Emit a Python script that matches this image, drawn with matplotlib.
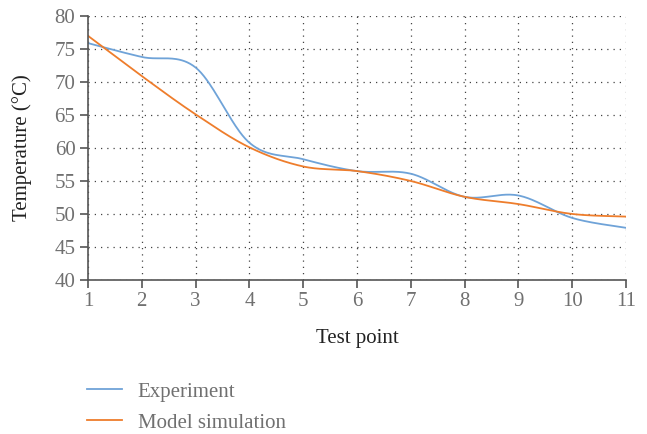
import numpy as np
import matplotlib
matplotlib.use("Agg")
import matplotlib.pyplot as plt

plt.rcParams['font.family'] = ['Liberation Serif', 'DejaVu Serif']

test_points = [1, 2, 3, 4, 5, 6, 7, 8, 9, 10, 11]
experiment = [75.9, 73.8, 72.2, 60.8, 58.3, 56.5, 56.1, 52.6, 52.8, 49.4, 47.9]
model_sim = [77.0, 70.9, 65.1, 60.1, 57.2, 56.5, 55.0, 52.6, 51.5, 50.0, 49.6]

BLUE = '#6fa3d8'
ORANGE = '#ee7d2c'
TXT = '#707070'


def smooth(xs, ys, n=40, t=0.5):
    xs = np.asarray(xs, float)
    ys = np.asarray(ys, float)
    P = np.column_stack([xs, ys])
    out = []
    for i in range(len(P) - 1):
        p0 = P[i - 1] if i > 0 else P[i]
        p1 = P[i]
        p2 = P[i + 1]
        p3 = P[i + 2] if i + 2 < len(P) else P[i + 1]
        c1 = p1 + (p2 - p0) * t / 3
        c2 = p2 - (p3 - p1) * t / 3
        s = np.linspace(0, 1, n)[:, None]
        seg = ((1 - s) ** 3) * p1 + 3 * ((1 - s) ** 2) * s * c1 + 3 * (1 - s) * s ** 2 * c2 + s ** 3 * p2
        out.append(seg if i == 0 else seg[1:])
    B = np.vstack(out)
    return B[:, 0], B[:, 1]


fig = plt.figure(figsize=(6.47, 4.34), dpi=100)
ax = fig.add_axes([0.136, 0.355, 0.8315, 0.608])

ex, ey = smooth(test_points, experiment)
mx, my = smooth(test_points, model_sim)
l1, = ax.plot(ex, ey, color=BLUE, lw=1.3, label='Experiment')
l2, = ax.plot(mx, my, color=ORANGE, lw=1.3, label='Model simulation')

ax.set_xlim(1, 11)
ax.set_ylim(40, 80)
ax.set_xticks(test_points)
ax.set_yticks(np.arange(40, 81, 5))
ax.grid(True, linestyle=(0, (1, 4)), color='#444444', lw=0.9)
for s in ['top', 'right']:
    ax.spines[s].set_visible(False)
for s in ['left', 'bottom']:
    ax.spines[s].set_color('#555555')
    ax.spines[s].set_linewidth(1.2)
ax.tick_params(axis='both', colors='#555555', labelcolor=TXT, labelsize=15, length=6, width=1.2, direction='out')
ax.tick_params(axis='x', pad=3)
ax.tick_params(axis='y', pad=3)
ax.set_xlabel('Test point', fontsize=15, color='#222222', labelpad=13)
ax.set_ylabel('Temperature (°C)', fontsize=15, color='#222222', labelpad=16)

fig.legend(handles=[l1, l2], loc='upper left', bbox_to_anchor=(0.134, 0.12),
           frameon=False, fontsize=15, labelcolor=TXT, handlelength=1.7,
           handletextpad=0.75, labelspacing=0.55, borderaxespad=0, borderpad=0)

fig.savefig('out.png', dpi=100)
